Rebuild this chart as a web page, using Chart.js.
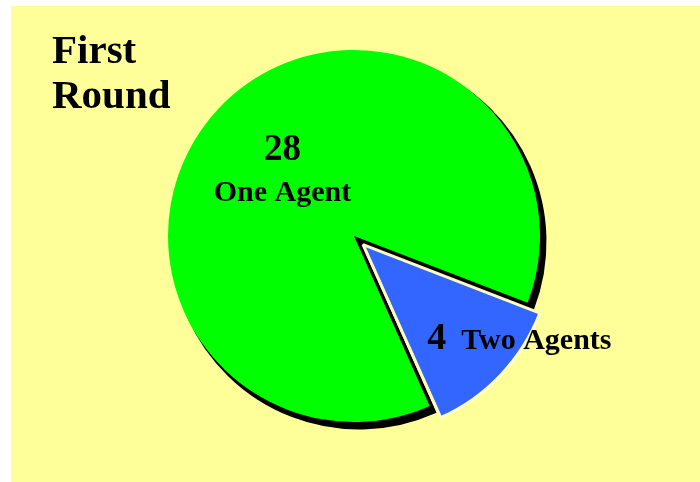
<!DOCTYPE html>
<html>
<head>
<meta charset="utf-8">
<script src="https://cdn.jsdelivr.net/npm/chart.js@4"></script>
<style>
  body { margin: 0; background: #ffffff; }
  canvas { display: block; }
</style>
</head>
<body>
<canvas id="roundChart" width="700" height="482"></canvas>
<script>
// ================= DATA =================
const categories = ["One Agent", "Two Agents"];
const agentCounts = [28, 4];
const titleLines = ["First", "Round"];

const sliceColors = ["#00ff00", "#3366ff"];

// ================= BACKGROUND + SHADOW =================
const backdropPlugin = {
  id: "backdrop",
  beforeDraw(chart) {
    const ctx = chart.ctx;
    ctx.save();
    ctx.fillStyle = "#ffff99";
    ctx.fillRect(11, 6, chart.width - 11, chart.height - 6);
    ctx.restore();
  },
  beforeDatasetsDraw(chart) {
    // black drop shadow behind the big slice only
    const arc = chart.getDatasetMeta(0).data[0];
    const ctx = chart.ctx;
    const dx = 5, dy = 6;
    ctx.save();
    ctx.fillStyle = "#000";
    ctx.strokeStyle = "#000";
    ctx.lineWidth = 3;
    ctx.lineJoin = "miter";
    ctx.beginPath();
    ctx.moveTo(arc.x + dx, arc.y + dy);
    ctx.arc(arc.x + dx, arc.y + dy, arc.outerRadius, arc.startAngle, arc.endAngle);
    ctx.closePath();
    ctx.fill();
    ctx.stroke();
    ctx.restore();
  }
};

// ================= LABELS =================
const labelPlugin = {
  id: "sliceLabels",
  afterDatasetsDraw(chart) {
    const ctx = chart.ctx;
    const arcs = chart.getDatasetMeta(0).data;
    ctx.save();
    ctx.fillStyle = "#000";
    ctx.textBaseline = "alphabetic";

    // big slice: value above name
    const a0 = arcs[0];
    const mid0 = (a0.startAngle + a0.endAngle) / 2;
    const px = a0.x + Math.cos(mid0) * a0.outerRadius * 0.53;
    const py = a0.y + Math.sin(mid0) * a0.outerRadius * 0.53;
    ctx.textAlign = "center";
    ctx.font = "bold 37px 'Liberation Serif', 'Times New Roman', serif";
    ctx.fillText(String(agentCounts[0]), px, py - 8);
    ctx.font = "bold 30px 'Liberation Serif', 'Times New Roman', serif";
    ctx.fillText(categories[0], px, py + 33);

    // small slice: value then name on one line
    const a1 = arcs[1];
    const mid1 = (a1.startAngle + a1.endAngle) / 2;
    const qx = a1.x + Math.cos(mid1) * a1.outerRadius * 0.55;
    const qy = a1.y + Math.sin(mid1) * a1.outerRadius * 0.55;
    ctx.textAlign = "left";
    ctx.font = "bold 38px 'Liberation Serif', 'Times New Roman', serif";
    const numText = String(agentCounts[1]);
    ctx.fillText(numText, qx - 1, qy + 43);
    const w = ctx.measureText(numText).width;
    ctx.font = "bold 30px 'Liberation Serif', 'Times New Roman', serif";
    ctx.fillText(categories[1], qx - 1 + w + 15, qy + 43);

    // title top-left
    ctx.font = "bold 41px 'Liberation Serif', 'Times New Roman', serif";
    ctx.fillText(titleLines[0], 52, 63);
    ctx.fillText(titleLines[1], 52, 108);
    ctx.restore();
  }
};

// ================= CHART =================
new Chart(document.getElementById("roundChart"), {
  type: "pie",
  data: {
    labels: categories,
    datasets: [{
      data: agentCounts,
      backgroundColor: sliceColors,
      borderColor: ["#00ff00", "#ffffc0"],
      borderWidth: [0, 3],
      offset: [0, 50]
    }]
  },
  options: {
    responsive: false,
    animation: false,
    events: [],
    rotation: 156,
    radius: 186,
    layout: { padding: { left: 168, right: 160, top: 50, bottom: 60 } },
    plugins: {
      legend: { display: false },
      tooltip: { enabled: false },
      title: { display: false }
    }
  },
  plugins: [backdropPlugin, labelPlugin]
});
</script>
</body>
</html>
